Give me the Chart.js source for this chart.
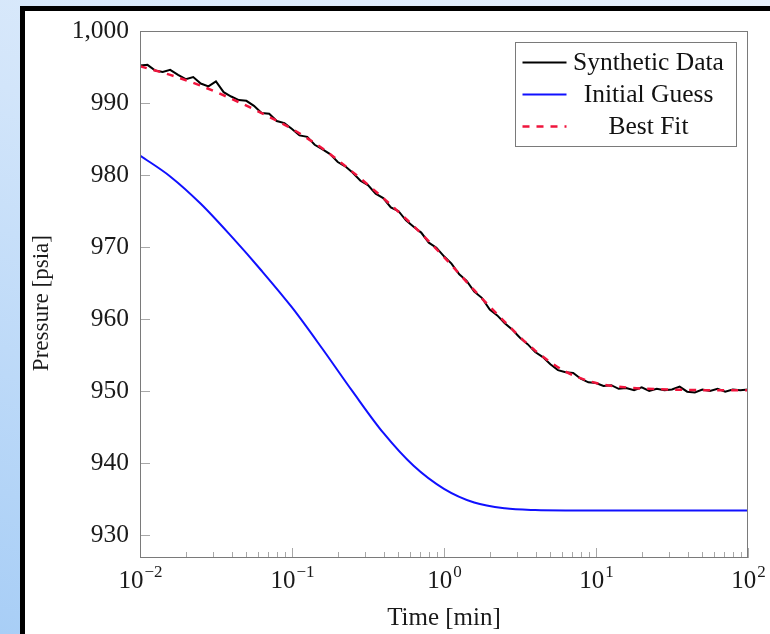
<!DOCTYPE html>
<html>
<head>
<meta charset="utf-8">
<script src="https://cdn.jsdelivr.net/npm/chart.js@4.4.1/dist/chart.umd.min.js"></script>
<style>
  html, body { margin: 0; padding: 0; }
  body {
    width: 770px; height: 634px; overflow: hidden; position: relative;
    background: linear-gradient(200deg, #e8f1fc 0%, #d2e5fa 40%, #a8cef6 100%);
  }
  #panel {
    position: absolute; left: 20px; top: 6px; width: 800px; height: 700px;
    background: #fff; border-left: 5px solid #000; border-top: 5px solid #000;
  }
  #chart { position: absolute; left: 0; top: 0; }
</style>
</head>
<body>
<div id="panel"></div>
<canvas id="chart" width="770" height="634"></canvas>
<script>
const SERIF = "'Liberation Serif', 'Times New Roman', serif";

// time samples of the synthetic (noisy) data, min
const synthTime = [
  0.01, 0.0112, 0.0126, 0.0141, 0.0158, 0.0178, 0.02, 0.0224, 0.0251, 0.0282,
  0.0316, 0.0355, 0.0398, 0.0447, 0.0501, 0.0562, 0.0631, 0.0708, 0.0794, 0.0891,
  0.1, 0.112, 0.126, 0.141, 0.158, 0.178, 0.2, 0.224, 0.251, 0.282,
  0.316, 0.355, 0.398, 0.447, 0.501, 0.562, 0.631, 0.708, 0.794, 0.891,
  1, 1.12, 1.26, 1.41, 1.58, 1.78, 2, 2.24, 2.51, 2.82,
  3.16, 3.55, 3.98, 4.47, 5.01, 5.62, 6.31, 7.08, 7.94, 8.91,
  10, 11.2, 12.6, 14.1, 15.8, 17.8, 20, 22.4, 25.1, 28.2,
  31.6, 35.5, 39.8, 44.7, 50.1, 56.2, 63.1, 70.8, 79.4, 89.1,
  100
];
const synthPressure = [
  995.2, 995.3, 994.5, 994.3, 994.6, 993.9, 993.3, 993.6, 992.7, 992.3,
  993.0, 991.5, 990.9, 990.4, 990.3, 989.6, 988.6, 988.5, 987.5, 987.2,
  986.4, 985.5, 985.3, 984.2, 983.6, 982.9, 981.8, 981.2, 980.3, 979.2,
  978.6, 977.4, 976.8, 975.5, 975.0, 973.7, 972.8, 972.0, 970.6, 969.9,
  968.7, 967.7, 966.2, 965.3, 963.8, 962.9, 961.3, 960.5, 959.4, 958.5,
  957.4, 956.5, 955.4, 954.7, 953.7, 952.9, 952.6, 952.5, 951.7, 951.2,
  951.1, 950.7, 950.8, 950.3, 950.4, 950.1, 950.5, 950.0, 950.3, 950.1,
  950.2, 950.6, 949.9, 949.8, 950.2, 950.0, 950.3, 949.9, 950.2, 950.1,
  950.2
];

// time samples of the two model curves, min
const curveTime = [
  0.01, 0.0158, 0.0251, 0.0398, 0.0631, 0.1, 0.158, 0.251, 0.398, 0.631,
  1, 1.58, 2.51, 3.98, 6.31, 10, 15.8, 25.1, 39.8, 63.1, 100
];
const guessPressure = [
  982.7, 979.8, 976.0, 971.5, 966.7, 961.6, 955.9, 949.9, 944.2, 939.6,
  936.4, 934.5, 933.7, 933.45, 933.4, 933.4, 933.4, 933.4, 933.4, 933.4, 933.4
];
const fitPressure = [
  995.1, 993.9, 992.4, 990.6, 988.6, 986.4, 983.7, 980.4, 976.8, 972.9,
  968.6, 964.0, 959.6, 955.6, 952.7, 951.1, 950.5, 950.25, 950.15, 950.1, 950.1
];

const xTicks = [0.01, 0.1, 1, 10, 100];
const xTickExponents = ['\u22122', '\u22121', '0', '1', '2'];
const yTicks = [930, 940, 950, 960, 970, 980, 990, 1000];

const toPoints = (xs, ys) => xs.map((x, i) => ({ x: x, y: ys[i] }));

// frame around the plot, short inward tick marks and 10^k labels
const plotFrame = {
  id: 'plotFrame',
  afterDatasetsDraw(chart) {
    const ctx = chart.ctx;
    const ca = chart.chartArea;
    const xs = chart.scales.x, ys = chart.scales.y;
    ctx.save();
    ctx.lineWidth = 1;
    ctx.strokeStyle = '#a8a8a8';
    ctx.beginPath();
    yTicks.forEach(v => {
      const py = Math.round(ys.getPixelForValue(v)) + 0.5;
      ctx.moveTo(ca.left, py);
      ctx.lineTo(ca.left + 10, py);
    });
    for (let k = 0; k < xTicks.length - 1; k++) {
      for (let m = 2; m < 10; m++) {
        const px = Math.round(xs.getPixelForValue(xTicks[k] * m)) + 0.5;
        ctx.moveTo(px, ca.bottom);
        ctx.lineTo(px, ca.bottom - 6);
      }
    }
    xTicks.forEach(v => {
      const px = Math.round(xs.getPixelForValue(v)) + 0.5;
      ctx.moveTo(px, ca.bottom);
      ctx.lineTo(px, ca.bottom - 10);
    });
    ctx.stroke();
    ctx.strokeStyle = '#7a7a7a';
    ctx.strokeRect(ca.left + 0.5, ca.top + 0.5, ca.width - 1, ca.height - 1);

    // x tick labels with real superscripts
    ctx.fillStyle = '#1a1a1a';
    ctx.textBaseline = 'alphabetic';
    ctx.textAlign = 'left';
    xTicks.forEach((v, i) => {
      const px = xs.getPixelForValue(v);
      ctx.font = '25px ' + SERIF;
      const wb = ctx.measureText('10').width;
      ctx.font = '17px ' + SERIF;
      const we = ctx.measureText(xTickExponents[i]).width;
      const x0 = px - (wb + we) / 2;
      ctx.font = '25px ' + SERIF;
      ctx.fillText('10', x0, ca.bottom + 30);
      ctx.font = '17px ' + SERIF;
      ctx.fillText(xTickExponents[i], x0 + wb + 1, ca.bottom + 19);
    });
    ctx.restore();
  }
};

// legend box in the upper right corner, text centred like pgfplots
const legendBox = {
  id: 'legendBox',
  afterDraw(chart) {
    const ctx = chart.ctx;
    const ca = chart.chartArea;
    const bx = ca.right - 232.5, by = ca.top + 11.5, bw = 221, bh = 104;
    ctx.save();
    ctx.fillStyle = '#fff';
    ctx.fillRect(bx, by, bw, bh);
    ctx.strokeStyle = '#7a7a7a';
    ctx.lineWidth = 1;
    ctx.strokeRect(bx, by, bw, bh);
    ctx.font = '25.5px ' + SERIF;
    ctx.textAlign = 'center';
    ctx.textBaseline = 'middle';
    chart.data.datasets.forEach((ds, i) => {
      const y = by + 20 + i * 32;
      ctx.strokeStyle = ds.borderColor;
      ctx.lineWidth = ds.borderWidth;
      ctx.setLineDash(ds.borderDash || []);
      ctx.beginPath();
      ctx.moveTo(bx + 7, y);
      ctx.lineTo(bx + 51, y);
      ctx.stroke();
      ctx.setLineDash([]);
      ctx.fillStyle = '#111';
      ctx.fillText(ds.label, bx + 133, y + 1);
    });
    ctx.restore();
  }
};

new Chart(document.getElementById('chart'), {
  type: 'line',
  data: {
    datasets: [
      {
        label: 'Synthetic Data',
        data: toPoints(synthTime, synthPressure),
        borderColor: '#000000',
        borderWidth: 2,
        tension: 0,
        order: 2
      },
      {
        label: 'Initial Guess',
        data: toPoints(curveTime, guessPressure),
        borderColor: '#1010ff',
        borderWidth: 2,
        cubicInterpolationMode: 'monotone',
        order: 1
      },
      {
        label: 'Best Fit',
        data: toPoints(curveTime, fitPressure),
        borderColor: '#f0143c',
        borderWidth: 2.5,
        borderDash: [7, 7],
        cubicInterpolationMode: 'monotone',
        order: 0
      }
    ]
  },
  options: {
    responsive: false,
    animation: false,
    events: [],
    layout: { padding: { left: 0, top: 31, right: 22, bottom: 0 } },
    elements: { point: { radius: 0 } },
    plugins: {
      legend: { display: false },
      tooltip: { enabled: false }
    },
    scales: {
      x: {
        type: 'logarithmic',
        min: 0.01,
        max: 100,
        afterBuildTicks: s => { s.ticks = xTicks.map(v => ({ value: v })); },
        afterFit: s => { s.height = 76; },
        grid: { display: false },
        border: { display: false },
        ticks: { display: false },
        title: {
          display: true,
          text: 'Time [min]',
          color: '#1a1a1a',
          font: { family: SERIF, size: 25 },
          padding: { top: 0, bottom: 1 }
        }
      },
      y: {
        type: 'linear',
        min: 926.8,
        max: 1000,
        afterBuildTicks: s => { s.ticks = yTicks.map(v => ({ value: v })); },
        afterFit: s => { s.width = 140; },
        grid: { display: false },
        border: { display: false },
        ticks: {
          padding: 3,
          color: '#1a1a1a',
          font: { family: SERIF, size: 25.5 },
          callback: v => v.toLocaleString('en-US')
        },
        title: {
          display: true,
          text: 'Pressure [psia]   ',
          color: '#1a1a1a',
          font: { family: SERIF, size: 23 },
          padding: { top: 28, bottom: 0 }
        }
      }
    }
  },
  plugins: [plotFrame, legendBox]
});
</script>
</body>
</html>
